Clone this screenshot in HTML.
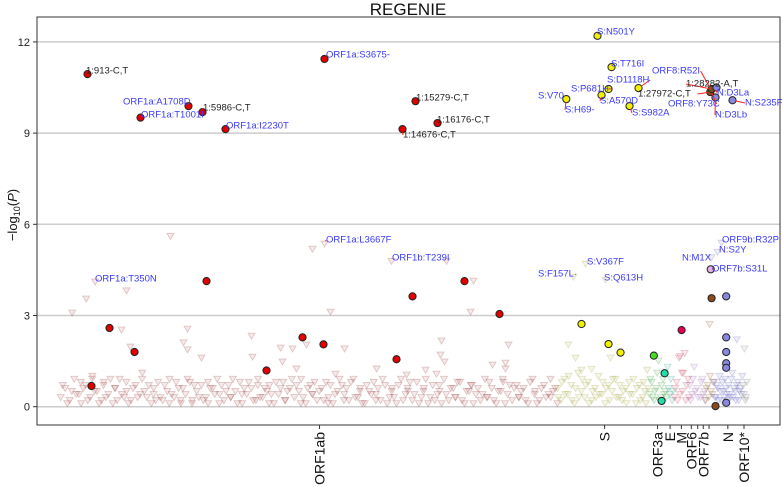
<!DOCTYPE html>
<html><head><meta charset="utf-8"><style>
html,body{margin:0;padding:0;background:#fff;}
svg{display:block;font-family:"Liberation Sans","DejaVu Sans",sans-serif;}
</style></head><body>
<svg id="chart" width="783" height="487" viewBox="0 0 783 487" xmlns="http://www.w3.org/2000/svg">
<text x="408" y="15" font-size="17" text-anchor="middle" fill="#111">REGENIE</text>
<g id="grid"></g>
<g id="bg"></g>
<g id="sig"></g>
<g id="lab"></g>
<rect x="37" y="17" width="743" height="408" fill="none" stroke="#333" stroke-width="1"/>
<g id="axes"></g>
<text transform="translate(17,215) rotate(-90)" font-size="13" text-anchor="middle" fill="#111">−log<tspan font-size="9" dy="3">10</tspan><tspan dy="-3">(</tspan><tspan font-style="italic">P</tspan>)</text>
</svg>
<script>
const yTicks=[0,3,6,9,12];
const geneNames=["ORF1ab","S","ORF3a","E","M","ORF6","ORF7a","ORF7b","ORF8","N","ORF10*"];
const geneMid=[10910,23473,25806,26358,26857,27294,27576,27821,28076,28904,29616];
const geneLabeled=[1,1,1,1,1,1,0,1,0,1,1];
const bgGene1=[0,0,0,0,0,0,0,0,0,0,0,0,0,0,0,0,0,0,0,0,0,0,0,0,0,0,0,0,0,0,0,0,0,0,0,0,0,0,0,0,0,0,0,0,0,0,0,0,0,0,0,0,0,0,0,0,0,0,0,0,0,0,0,0,0,0,0,0,0,0,0,0,0,0,0,0,0,0,0,0,0,0,0,0,0,0,0,0,0,0,0,0,0,0,0,0,0,0,0,0,0,0,0,0,0,0,0,0,0,0,0,0,0,0,0,0,0,0,0,0,0,0,0,0,0,0,0];
const bgPos1=[-500,-300,-100,100,300,400,600,800,900,1100,1300,1400,1600,1800,1900,2100,2300,2400,2600,2800,3000,3100,3300,3500,3600,3800,4000,4200,4300,4500,4700,4800,5000,5200,5300,5500,5700,5900,6000,6200,6400,6500,6700,6900,7000,7200,7400,7500,7700,7900,8100,8200,8400,8600,8700,8900,9100,9300,9400,9600,9800,10000,10100,10300,10500,10600,10800,11000,11200,11300,11500,11700,11900,12000,12200,12400,12600,12700,12900,13100,13300,13400,13600,13800,14000,14100,14300,14500,14700,14800,15000,15200,15400,15500,15700,15900,16100,16200,16400,16600,16800,16900,17100,17300,17500,17600,17800,18000,18200,18300,18500,18700,18900,19000,19200,19400,19600,19700,19900,20100,20300,20400,20600,20800,21000,21100,21300];
const bgValA=[0.3,0.6,0.2,0.9,0.4,0.1,0.7,0.3,1.0,0.5,0.2,0.8,0.4,0.1,0.6,0.9,0.3,0.5,0.2,0.7,0.4,1.1,0.3,0.1,0.6,0.8,0.2,0.5,0.9,0.3,0.6,0.1,0.4,0.8,0.2,0.5,0.7,0.3,0.1,0.6,0.9,0.4,0.2,0.7,0.3,0.5,0.8,0.1,0.4,0.6,0.2,0.9,0.3,0.5,0.7,0.1,0.4,0.8,0.2,0.6,0.3,0.5,0.9,0.1,0.7,0.4,0.2,0.6,0.8,0.3,0.1,0.5,0.7,0.4,0.2,0.9,0.3,0.6,0.1,0.5,0.8,0.4,0.2,0.7,0.3,0.6,0.1,0.9,0.4,0.5,0.2,0.8,0.3,0.6,0.1,0.7,0.4,0.5,0.9,0.2,0.6,0.3,0.8,0.1,0.5,0.7,0.4,0.2,0.9,0.3,0.6,0.1,0.5,0.8,0.4,0.2,0.7,0.3,0.6,0.1,0.9,0.5,0.2,0.7,0.4,0.3,0.6];
const bgValB=[0.7,0.1,0.5,0.4,0.8,0.6,0.2,0.9,0.5,0.1,0.7,0.3,0.9,0.6,0.2,0.4,0.8,0.1,0.6,0.3,0.9,0.5,0.7,0.4,0.2,0.3,0.7,0.1,0.4,0.8,0.2,0.6,0.9,0.1,0.7,0.3,0.2,0.8,0.6,0.4,0.1,0.7,0.5,0.3,0.9,0.1,0.4,0.6,0.8,0.2,0.7,0.3,0.6,0.1,0.4,0.8,0.6,0.2,0.5,0.9,0.7,0.1,0.3,0.6,0.4,0.8,0.5,0.2,0.1,0.7,0.4,0.9,0.2,0.6,0.8,0.3,0.5,0.1,0.7,0.4,0.2,0.6,0.9,0.1,0.5,0.3,0.7,0.2,0.6,0.8,0.4,0.1,0.5,0.9,0.3,0.2,0.7,0.1,0.4,0.6,0.3,0.8,0.2,0.5,0.7,0.1,0.6,0.4,0.3,0.8,0.2,0.5,0.9,0.1,0.7,0.6,0.3,0.5,0.2,0.8,0.4,0.1,0.6,0.3,0.9,0.5,0.1];
const hiGene=[0,0,0,0,0,0,0,0,0,0,0,0,0,0,0,0,0,0,0,0,0,0,0,0,0,0,0,0,0,0,0,0,0,0,0,0,0,0,1,1,1,1,1,1,1,1,9,9,9,4,4,4,8,9];
const hiPos=[9,626,1022,2402,2180,2578,5090,4914,5090,5707,7911,7955,9190,9719,9277,9895,10600,11128,11392,10335,12012,11613,14081,16505,17696,17564,16285,16241,16417,19238,18533,19105,19105,15580,16065,13425,14748,4341,21876,22190,23734,22455,22896,22102,22631,23513,28625,28449,28184,26800,27000,26880,28100,29300];
const hiVal=[3.08,3.54,4.1,3.81,2.52,1.96,2.55,2.1,1.87,1.6,2.32,1.63,1.93,1.9,1.47,1.24,5.18,5.35,3.11,2.03,1.9,1.07,4.78,4.78,4.13,3.11,2.16,1.7,1.47,2.03,1.37,1.43,1.24,1.2,1.07,1.24,1.04,5.6,2.03,1.6,1.6,1.2,1.23,4.26,4.69,4.16,5.38,5.08,4.9,1.65,1.75,1.1,2.7,2.2];
const smGene=[1,1,1,1,1,1,1,1,1,1,1,1,1,1,1,1,1,1,1,1,1,1,1,1,1,1,1,1,2,2,2,2,2,2,2,2,3,3,3,4,4,4,4,4,4,5,5,6,6,6,7,7,8,8,8,8,9,9,9,9,9,9,9,9,9,9,9,9,9,9,9,9,10,10,10];
const smPos=[21400,21550,21700,21850,22000,22150,22300,22450,22600,22750,22900,23050,23200,23350,23500,23650,23800,23950,24100,24250,24400,24550,24700,24850,25000,25150,25250,25350,25450,25550,25650,25750,25850,25950,26050,26150,26250,26350,26450,26550,26650,26750,26900,27050,27150,27220,27320,27420,27550,27700,27780,27860,27920,28020,28120,28220,28300,28380,28460,28540,28620,28700,28780,28860,28940,29020,29100,29180,29260,29340,29420,29500,29580,29640,29700];
const smVal=[0.6,0.2,0.9,0.4,0.7,0.1,1.1,0.5,0.3,0.8,0.2,0.6,1.0,0.4,0.1,0.7,0.5,0.9,0.3,0.2,0.6,0.8,0.4,0.1,0.7,0.3,0.5,1.2,0.4,0.8,0.2,0.6,1.5,0.3,0.9,0.5,1.3,0.4,0.2,0.3,0.8,1.6,0.5,0.2,0.9,0.7,0.4,1.3,0.6,0.3,0.9,0.5,0.2,0.7,1.0,0.4,0.8,0.3,0.6,1.0,0.2,0.5,0.9,0.4,0.7,0.3,1.1,0.6,0.2,0.8,0.5,0.4,0.7,1.9,0.3];
const smVal2=[0.3,0.8,0.4,1.0,0.2,0.6,0.3,0.9,0.7,0.1,0.5,0.3,0.4,0.8,0.6,0.2,0.9,0.3,0.7,0.5,0.1,0.4,0.9,0.6,0.2,0.8,0.1,0.6,0.9,0.3,0.5,1.1,0.2,0.7,0.4,0.3,0.6,0.9,0.5,0.6,0.2,0.4,1.1,0.7,0.3,0.2,0.9,0.5,0.3,0.8,0.4,0.2,0.6,0.3,0.5,0.8,0.3,0.7,0.2,0.5,0.8,0.3,0.6,0.2,0.4,0.9,0.3,0.5,0.7,0.2,0.6,1.0,0.4,0.2,0.8];
const sigPos=[683,3019,5134,5752,6765,11128,14566,15139,16109,859,1653,2755,5928,8572,10159,11084,14302,15007,17298,18841,23160,23778,24968,23646,23338,21786,24572,22455,23646,24175,28130,28200,28404,28360,29109,25643,26117,25985,26866,28188,28360,28150,28832,28832,28832,28832,28832,28832];
const sigVal=[10.94,9.51,9.89,9.69,9.13,11.44,9.13,10.05,9.33,0.68,2.59,1.8,4.13,1.19,2.28,2.05,1.56,3.63,4.13,3.05,12.2,11.17,10.48,10.45,10.25,10.12,9.89,2.72,2.06,1.78,10.35,10.45,10.5,10.17,10.08,1.68,1.1,0.19,2.52,3.57,0.02,4.52,3.63,2.28,1.8,1.43,1.28,0.13];
const sigGrp=[0,0,0,0,0,0,0,0,0,0,0,0,0,0,0,0,0,0,0,0,1,1,1,1,1,1,1,1,1,1,8,8,9,9,9,2,3,3,4,8,8,7,9,9,9,9,9,9];
const grpFill=["#e00000","#f0f000","#44dd22","#22ddaa","#e8004a","#c070c0","#c090d0","#e0b0e0","#8b4a1a","#8888dd","#999999"];
const triCol=["150,50,50","160,160,50","60,160,60","40,160,140","200,60,90","150,90,170","160,110,190","170,120,180","140,90,40","100,100,190","120,120,120"];
const labText=["1:913-C,T","ORF1a:A1708D","ORF1a:T1001I","1:5986-C,T","ORF1a:I2230T","ORF1a:S3675-","1:15279-C,T","1:16176-C,T","1:14676-C,T","S:N501Y","S:T716I","ORF8:R52I","S:D1118H","1:28282-A,T","S:P681H","1:27972-C,T","N:D3La","S:V70","S:A570D","ORF8:Y73C","N:S235F","S:H69-","S:S982A","N:D3Lb","ORF1a:L3667F","ORF1b:T239I","ORF9b:R32P","N:S2Y","S:V367F","N:M1X","ORF7b:S31L","S:F157L","S:Q613H","ORF1a:T350N"];
const labX=[86,123,141,203,226,326,416,437,403,597,611,652,607,686,571,638,717,538,600,668,745,565,632,715,326,392,722,719,587,682,712,538,604,95];
const labY=[70,101,114,107,125,54,97,119,134,31,63,70,79,83,88,93,92,95,100,103,102,109,112,114,239,257,239,249,261,257,268,273,277,278];
const labBlue=[0,1,1,0,1,1,0,0,0,1,1,1,1,0,1,0,1,1,1,1,1,1,1,1,1,1,1,1,1,1,1,1,1,1];
const labTPos=[683,5134,3019,5752,6765,11128,15139,16109,14566,23160,23778,28180,24968,28200,23646,28130,28404,21786,23338,28150,29109,21786,24572,28360,11128,14081,28625,28449,22631,28184,28150,22102,23513,1022];
const labTVal=[10.94,9.89,9.51,9.69,9.13,11.44,10.05,9.33,9.13,12.2,11.17,10.4,10.48,10.45,10.45,10.35,10.5,10.12,10.25,10.4,10.08,10.12,9.89,10.17,5.35,4.78,5.38,5.08,4.69,4.9,4.52,4.26,4.16,4.1];

const xs=p=>72+p*0.02269;
const ys=v=>406.7-30.4*v;
const NS="http://www.w3.org/2000/svg";
function mk(tag,attrs,parent){const e=document.createElementNS(NS,tag);for(const k in attrs)e.setAttribute(k,attrs[k]);parent.appendChild(e);return e;}
const grid=document.getElementById('grid'),axes=document.getElementById('axes'),bg=document.getElementById('bg'),sig=document.getElementById('sig'),lab=document.getElementById('lab');
yTicks.forEach(t=>{
  const y=ys(t);
  const gl=mk('line',{x1:37,x2:780,y1:y,y2:y,stroke:'#cccccc','stroke-width':1.5},grid);
  
  
  mk('line',{x1:33,x2:37,y1:y,y2:y,stroke:'#333'},axes);
  const tl=mk('text',{x:30,y:y+4,'font-size':11,'text-anchor':'end',fill:'#222'},axes);
  tl.textContent=String(t);
  
  
});
geneNames.forEach((g,i)=>{
  const x=xs(geneMid[i]);
  mk('line',{x1:x,x2:x,y1:425,y2:429,stroke:'#333'},axes);
  if(geneLabeled[i]){
    const t=mk('text',{transform:'translate('+(x+5)+',432) rotate(-90)','font-size':14,'text-anchor':'end',fill:'#111'},axes);
    t.textContent=g;
    
    
  }
});
function tri(x,y,g){
  const c=triCol[g];
  const t=mk('path',{d:'M'+(x-3.5)+','+(y-3)+'L'+(x+3.5)+','+(y-3)+'L'+x+','+(y+3)+'Z',fill:'rgba('+c+',0.1)',stroke:'rgba('+c+',0.25)','stroke-width':0.9},bg);
  
  
}
bgPos1.forEach((p,i)=>{tri(xs(p),ys(bgValA[i]),bgGene1[i]);tri(xs(p+90),ys(bgValB[i]),bgGene1[i]);});
smPos.forEach((p,i)=>{tri(xs(p),ys(smVal[i]),smGene[i]);tri(xs(p+40),ys(smVal2[i]),smGene[i]);});
hiPos.forEach((p,i)=>tri(xs(p),ys(hiVal[i]),hiGene[i]));
sigPos.forEach((p,i)=>{
  const c=mk('circle',{cx:xs(p),cy:ys(sigVal[i]),r:3.6,fill:grpFill[sigGrp[i]],stroke:'#222','stroke-width':1},sig);
  
  
});
labText.forEach((s,i)=>{
  const tx=xs(labTPos[i]),ty=ys(labTVal[i]);
  const w=s.length*5.4;
  let ax=labX[i];
  if(labX[i]+w/2<tx) ax=labX[i]+w;
  const ay=labY[i]+1;
  let dx=ax-tx,dy=ay-ty;const d=Math.hypot(dx,dy)||1;
  const L=Math.min(d,28);
  const l=mk('line',{x1:tx+dx/d*L,y1:ty+dy/d*L,x2:tx+dx/d*3,y2:ty+dy/d*3,stroke:'#ff2020','stroke-width':1},lab);
  
  
  const t=mk('text',{x:labX[i],y:labY[i]+3.5,'font-size':9.5,fill:labBlue[i]?'#3a3aff':'#222'},lab);
  t.textContent=s;
  
  
});
</script>
</body></html>
